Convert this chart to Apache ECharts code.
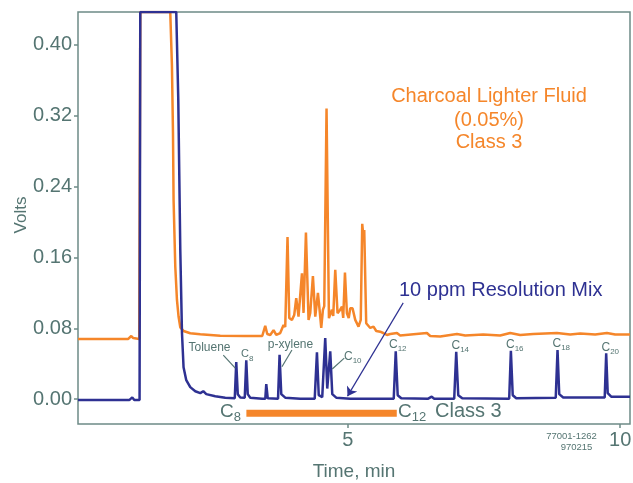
<!DOCTYPE html>
<html>
<head>
<meta charset="utf-8">
<script src="https://cdn.jsdelivr.net/npm/echarts@6/dist/echarts.min.js"></script>
<style>
html,body{margin:0;padding:0;background:#fff;}
#chart{width:633px;height:483px;}
</style>
</head>
<body>
<div id="chart"></div>
<script>
// ---- data (time in min, signal in volts) ----
const yTickValues = [0, 0.08, 0.16, 0.24, 0.32, 0.40];
const xTickValues = [5, 10];

// 10 ppm Resolution Mix trace
const resolutionMix = [
  [0.05,-0.001],[0.99,-0.001],[1.046,0.002],[1.083,-0.001],[1.18,-0.001],[1.193,0.437],[1.853,0.437],
  [1.89,0.339],[1.927,0.169],[1.958,0.075],[1.987,0.036],[2.037,0.0215],[2.11,0.0136],[2.202,0.009],
  [2.294,0.0068],[2.349,0.009],[2.404,0.0057],[2.569,0.0034],[2.752,0.0017],[2.927,0.001],
  [2.954,0.042],[2.982,0.0057],[3.028,0.002],[3.11,0.0017],[3.138,0.044],[3.165,0.0057],[3.211,0.0017],
  [3.431,0.0006],[3.487,0.0006],[3.505,0.017],[3.532,0.001],[3.721,0.0006],[3.749,0.050],[3.78,0.0057],
  [3.853,0.0017],[4.128,0.0006],[4.394,0.0006],[4.435,0.053],[4.468,0.0045],[4.532,0.0023],[4.56,0.0023],
  [4.587,0.069],[4.624,0.012],[4.651,0.012],[4.679,0.054],[4.716,0.0057],[4.789,0.0017],[5.046,0.0006],
  [5.844,0.0006],[5.881,0.054],[5.917,0.0045],[5.982,0.001],[6.477,0.0006],[6.541,0.0028],[6.587,0.0006],
  [6.954,0.0006],[6.991,0.0536],[7.028,0.0045],[7.101,0.001],[7.963,0.0006],[7.994,0.0547],[8.028,0.0045],
  [8.092,0.001],[8.817,0.0017],[8.85,0.0555],[8.881,0.0057],[8.954,0.002],[9.716,0.002],[9.743,0.0518],
  [9.771,0.0068],[9.835,0.0028],[10.18,0.0028]
];

// Charcoal Lighter Fluid (0.05%) trace
const lighterFluid = [
  [0.05,0.068],[0.972,0.068],[1.028,0.0713],[1.064,0.069],[1.174,0.068],[1.193,0.437],[1.743,0.437],
  [1.774,0.376],[1.793,0.301],[1.804,0.225],[1.835,0.150],[1.866,0.112],[1.896,0.093],[1.927,0.081],
  [1.987,0.077],[2.11,0.0744],[2.294,0.0733],[2.661,0.0717],[3.119,0.0713],[3.431,0.0713],
  [3.486,0.0827],[3.523,0.0736],[3.578,0.0725],[3.639,0.078],[3.688,0.0725],[3.761,0.0747],
  [3.822,0.0838],[3.853,0.0815],[3.895,0.183],[3.927,0.0917],[3.976,0.0895],[4.018,0.095],
  [4.055,0.114],[4.097,0.0932],[4.160,0.142],[4.189,0.0974],[4.233,0.188],[4.281,0.0895],
  [4.312,0.0974],[4.361,0.139],[4.404,0.0932],[4.453,0.120],[4.483,0.101],[4.514,0.0804],
  [4.545,0.101],[4.569,0.105],[4.611,0.328],[4.655,0.0914],[4.710,0.101],[4.734,0.094],
  [4.771,0.146],[4.813,0.097],[4.862,0.101],[4.894,0.1045],[4.917,0.0917],[4.949,0.143],
  [4.985,0.097],[5.018,0.0917],[5.046,0.1027],[5.088,0.1027],[5.138,0.0895],[5.198,0.0819],
  [5.239,0.0895],[5.266,0.198],[5.284,0.186],[5.303,0.191],[5.339,0.0857],[5.413,0.0804],
  [5.473,0.0819],[5.523,0.077],[5.596,0.0762],[5.651,0.0747],[5.719,0.0725],[5.78,0.0736],
  [5.903,0.0747],[5.963,0.0719],[6.453,0.0747],[6.514,0.0713],[6.697,0.0708],[7.004,0.0736],
  [7.156,0.0719],[7.486,0.073],[7.798,0.0719],[7.982,0.0747],[8.165,0.0725],[8.404,0.0736],
  [8.839,0.0747],[9.083,0.073],[9.266,0.0742],[9.541,0.073],[9.756,0.0747],[9.908,0.073],[10.18,0.073]
];

// C8 - C12 range bar
const classRange = [[3.14,-0.0158],[5.9,-0.0158]];
// arrow from "10 ppm Resolution Mix" to baseline
const arrowLine = [[6.018,0.1087],[4.996,0.0034]];
// leader lines for peak names
const leaderLines = [
  [[2.716,0.0498],[2.936,0.0351]],
  [[3.976,0.0555],[3.793,0.0366]],
  [[4.936,0.0464],[4.716,0.034]]
];

const ORANGE = '#F5862A';
const NAVY = '#2E3192';
const GREY = '#557572';
const FRAME = '#6E8B87';
const FONT = '"Liberation Sans", Arial, sans-serif';

const chart = echarts.init(document.getElementById('chart'), null, {renderer:'canvas'});

function txt(x, y, text, size, color, align) {
  return {type:'text', x:x, y:y, silent:true, z:100,
    style:{text:text, fill:color, font: size + 'px ' + FONT, align: align || 'left', verticalAlign:'middle'}};
}
function sub(x, y, c, s, cs, ss, dy) {
  return [txt(x, y, c, cs, GREY), txt(x + cs*0.72, y + dy, s, ss, GREY)];
}

const graphics = [
  txt(489, 96, 'Charcoal Lighter Fluid', 20, ORANGE, 'center'),
  txt(489, 120, '(0.05%)', 20, ORANGE, 'center'),
  txt(489, 142, 'Class 3', 20, ORANGE, 'center'),
  txt(399, 290, '10 ppm Resolution Mix', 20, NAVY, 'left'),
  txt(209.5, 348, 'Toluene', 12, GREY, 'center'),
  txt(290.5, 344.5, 'p-xylene', 12, GREY, 'center'),
  ...sub(241, 354, 'C', '8', 11, 8, 4.5),
  ...sub(344, 356.5, 'C', '10', 12, 8, 4),
  ...sub(389, 345, 'C', '12', 12, 8, 4),
  ...sub(451.5, 346, 'C', '14', 12, 8, 4),
  ...sub(506, 345, 'C', '16', 12, 8, 4),
  ...sub(552.5, 344, 'C', '18', 12, 8, 4),
  ...sub(601.5, 348, 'C', '20', 12, 8, 4),
  ...sub(220, 411.5, 'C', '8', 19, 13, 6),
  ...sub(398, 411.5, 'C', '12', 19, 13, 6),
  txt(435, 411.5, 'Class 3', 20, GREY, 'left'),
  txt(571.5, 436.5, '77001-1262', 9.5, GREY, 'center'),
  txt(576.5, 447, '970215', 9.5, GREY, 'center'),
  {type:'text', x:21, y:215, rotation:Math.PI/2, silent:true,
    style:{text:'Volts', fill:GREY, font:'17px ' + FONT, align:'center', verticalAlign:'middle'}}
];

const option = {
  animation:false,
  backgroundColor:'#fff',
  grid:{left:78, right:3, top:12, bottom:59, outerBoundsMode:'none', containLabel:false,
        show:true, borderColor:FRAME, borderWidth:1.5, backgroundColor:'transparent'},
  xAxis:{
    type:'value', min:0.05, max:10.18, position:'bottom',
    name:'Time, min', nameLocation:'middle', nameGap:38,
    nameTextStyle:{color:GREY, fontSize:19, fontFamily:FONT},
    axisLine:{show:false, onZero:false},
    axisTick:{show:true, customValues:xTickValues, length:4, inside:false, lineStyle:{color:FRAME, width:1.5}},
    axisLabel:{customValues:xTickValues, color:GREY, fontSize:20, fontFamily:FONT, margin:6, formatter:v=>String(v)},
    splitLine:{show:false}
  },
  yAxis:{
    type:'value', min:-0.028, max:0.437, position:'left',
    axisLine:{show:false, onZero:false},
    axisTick:{show:true, customValues:yTickValues, length:4, lineStyle:{color:FRAME, width:1.5}},
    axisLabel:{customValues:yTickValues, color:GREY, fontSize:20, fontFamily:FONT, margin:6, formatter:v=>v.toFixed(2)},
    splitLine:{show:false}
  },
  series:[
    {type:'line', data:lighterFluid, symbol:'none', lineStyle:{color:ORANGE, width:2.5}, z:2},
    {type:'line', data:resolutionMix, symbol:'none', lineStyle:{color:NAVY, width:2.5}, z:3},
    {type:'line', data:classRange, symbol:'none', lineStyle:{color:ORANGE, width:7, cap:'butt'}, z:4},
    {type:'lines', coordinateSystem:'cartesian2d', z:5,
      data:[{coords:arrowLine}], symbol:['none','arrow'], symbolSize:9,
      lineStyle:{color:NAVY, width:1.2, opacity:1}},
    {type:'lines', coordinateSystem:'cartesian2d', z:5,
      data:leaderLines.map(c=>({coords:c})), symbol:'none',
      lineStyle:{color:GREY, width:1.2, opacity:1}}
  ],
  graphic:graphics
};
chart.setOption(option);
</script>
</body>
</html>
